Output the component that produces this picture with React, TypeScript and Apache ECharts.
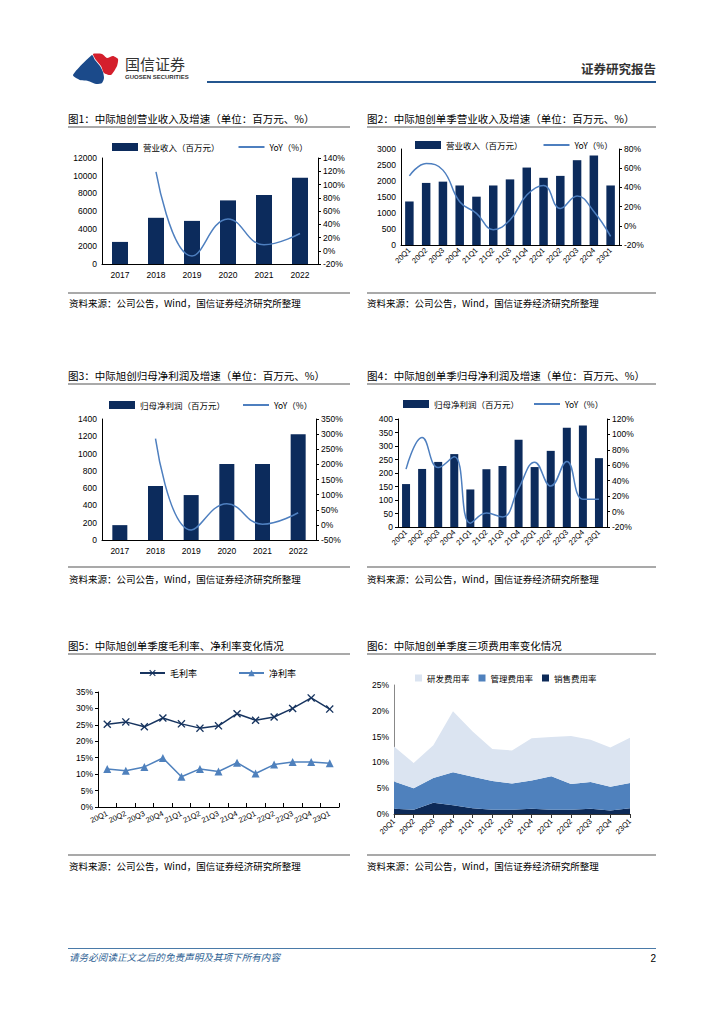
import React, { useEffect, useRef } from 'react';
import * as echarts from 'echarts';

const years = ['2017', '2018', '2019', '2020', '2021', '2022'];
const quarters = ['20Q1', '20Q2', '20Q3', '20Q4', '21Q1', '21Q2', '21Q3', '21Q4', '22Q1', '22Q2', '22Q3', '22Q4', '23Q1'];

const revenueAnnual = [2500, 5230, 4880, 7200, 7800, 9760];
const revenueAnnualYoY = [null, 119, -8, 48, 9, 26];
const revenueQ = [1360, 1940, 1980, 1860, 1510, 1860, 2050, 2420, 2100, 2160, 2650, 2800, 1860];
const revenueQYoY = [52, 65, 58, 25, 13, -4, 6, 32, 42, 18, 31, 15, -11];

const netProfitAnnual = [172, 625, 520, 880, 880, 1225];
const netProfitAnnualYoY = [null, 285, -17, 70, 2, 40];
const netProfitQ = [159, 215, 241, 270, 139, 214, 226, 323, 222, 282, 368, 376, 255];
const netProfitQYoY = [55, 96, 57, 71, -15, -2, -7, 30, 64, 33, 65, 16, 16];

const grossMargin = [25.2, 25.9, 24.4, 27.1, 25.3, 24.0, 24.7, 28.4, 26.4, 27.4, 30.0, 33.2, 29.8];
const netMargin = [11.6, 11.0, 12.2, 14.9, 9.2, 11.6, 10.8, 13.5, 10.2, 12.9, 13.7, 13.7, 13.3];

const salesExpRate = [1.0, 0.8, 2.2, 1.7, 1.1, 0.8, 0.8, 1.0, 0.8, 0.8, 1.0, 0.7, 1.1];
const adminExpRate = [5.3, 4.2, 4.8, 6.4, 6.1, 5.6, 5.1, 5.5, 6.5, 5.0, 5.2, 4.6, 4.9];
const rdExpRate = [6.8, 4.9, 6.3, 11.8, 8.8, 6.2, 6.4, 8.2, 7.6, 9.3, 8.2, 7.6, 8.8];

const chartTitles = [
  '图1：中际旭创营业收入及增速（单位：百万元、%）',
  '图2：中际旭创单季营业收入及增速（单位：百万元、%）',
  '图3：中际旭创归母净利润及增速（单位：百万元、%）',
  '图4：中际旭创单季归母净利润及增速（单位：百万元、%）',
  '图5：中际旭创单季度毛利率、净利率变化情况',
  '图6：中际旭创单季度三项费用率变化情况',
];
const sourceText = '资料来源：公司公告，Wind，国信证券经济研究所整理';

const NAVY = '#0c2b5c';
const LINE_BLUE = '#4e7fbf';
const CJK = '"Noto Sans CJK SC", sans-serif';
const NUM = '"Liberation Sans", Arial, sans-serif';

const txt = (text: string, x: number, y: number, size: number, o: any = {}) => ({
  type: 'text',
  x,
  y,
  silent: true,
  style: {
    text,
    x: 0,
    y: 0,
    fill: o.color || '#000',
    fontSize: size,
    fontFamily: o.family || CJK,
    fontWeight: o.weight || 'normal',
    fontStyle: o.fontStyle || 'normal',
    align: o.align || 'left',
    verticalAlign: 'middle',
    textAlign: o.align || 'left',
    textVerticalAlign: 'middle',
  },
});

const hline = (x1: number, x2: number, y: number, color: string, w: number) => ({
  type: 'line',
  silent: true,
  shape: { x1, y1: y, x2, y2: y },
  style: { stroke: color, lineWidth: w },
});

const labelStyle = { color: '#000', fontSize: 8.5, fontFamily: NUM };

const catAxis = (gridIndex: number, data: string[], extra: any = {}) => ({
  type: 'category',
  gridIndex,
  data,
  axisLine: { lineStyle: { color: '#000', width: 1 } },
  axisTick: { show: false },
  splitLine: { show: false },
  ...extra,
  axisLabel: { ...labelStyle, margin: 6, ...(extra.axisLabel || {}) },
});

const valAxis = (gridIndex: number, min: number, max: number, interval: number, position: string, pct: boolean, extra: any = {}) => ({
  type: 'value',
  gridIndex,
  min,
  max,
  interval,
  position,
  axisLine: { show: true, lineStyle: { color: '#000', width: 1 } },
  axisTick: { show: true, length: 3, lineStyle: { color: '#000' } },
  splitLine: { show: false },
  axisLabel: { ...labelStyle, margin: 5, formatter: (v: number) => (pct ? `${v}%` : `${v}`) },
  ...extra,
});

const xSymbol = 'path://M0,1.2L1.2,0L5,3.8L8.8,0L10,1.2L6.2,5L10,8.8L8.8,10L5,6.2L1.2,10L0,8.8L3.8,5Z';

const legendBase = {
  orient: 'horizontal',
  padding: 0,
  itemWidth: 26,
  itemHeight: 8,
  selectedMode: false,
  textStyle: { fontSize: 8.5, fontFamily: CJK, color: '#000', lineHeight: 10 },
};

const barItem = (name: string) => ({ name, icon: 'rect' });
const lineItem = (name: string) => ({ name, itemStyle: { opacity: 0 } });

const option: any = {
  animation: false,
  backgroundColor: '#fff',
  grid: [
    { left: 102, top: 158, width: 216, height: 106 },
    { left: 401, top: 149, width: 218, height: 96 },
    { left: 102, top: 419, width: 214, height: 121 },
    { left: 398, top: 419, width: 209, height: 108 },
    { left: 98, top: 692, width: 241, height: 115 },
    { left: 394, top: 685, width: 236, height: 129 },
  ],
  legend: [
    { ...legendBase, left: 112, top: 142, itemGap: 18, data: [barItem('营业收入（百万元）'), lineItem('YoY（%）')] },
    { ...legendBase, left: 415, top: 140, itemGap: 20, data: [barItem('营业收入（百万元）'), lineItem('YoY（%）')] },
    { ...legendBase, left: 109, top: 400, itemGap: 17, data: [barItem('归母净利润（百万元）'), lineItem('YoY（%）')] },
    { ...legendBase, left: 403, top: 399, itemGap: 14, data: [barItem('归母净利润（百万元）'), lineItem('YoY（%）')] },
    { ...legendBase, left: 139, top: 668, itemGap: 41, itemWidth: 25, itemHeight: 8, textStyle: { ...legendBase.textStyle, fontSize: 9 }, data: ['毛利率', '净利率'] },
    { ...legendBase, left: 415, top: 673, itemGap: 9, itemWidth: 7, itemHeight: 7, data: [barItem('研发费用率'), barItem('管理费用率'), barItem('销售费用率')] },
  ],
  xAxis: [
    catAxis(0, years),
    catAxis(1, quarters, { axisLabel: { rotate: 45, margin: 4, fontSize: 7.5, interval: 0 } }),
    catAxis(2, years),
    catAxis(3, quarters, { axisLabel: { rotate: 45, margin: 4, fontSize: 7.5, interval: 0 } }),
    catAxis(4, quarters, {
      axisTick: { show: true, inside: true, length: 4, lineStyle: { color: '#000' } },
      axisLabel: { rotate: 25, margin: 6, fontSize: 7.5, interval: 0 },
    }),
    catAxis(5, quarters, {
      boundaryGap: false,
      axisLine: { lineStyle: { color: '#333', width: 1 } },
      axisTick: { show: true, length: 4, lineStyle: { color: '#333' } },
      axisLabel: { rotate: 45, margin: 6, fontSize: 7.5, interval: 0 },
    }),
  ],
  yAxis: [
    valAxis(0, 0, 12000, 2000, 'left', false, { axisTick: { show: false } }),
    valAxis(0, -20, 140, 20, 'right', true),
    valAxis(1, 0, 3000, 500, 'left', false, { axisTick: { show: false } }),
    valAxis(1, -20, 80, 20, 'right', true),
    valAxis(2, 0, 1400, 200, 'left', false, { axisTick: { show: false } }),
    valAxis(2, -50, 350, 50, 'right', true),
    valAxis(3, 0, 400, 50, 'left', false),
    valAxis(3, -20, 120, 20, 'right', true),
    valAxis(4, 0, 35, 5, 'left', true),
    valAxis(5, 0, 25, 5, 'left', true, { axisTick: { show: false }, axisLine: { show: true, lineStyle: { color: '#888', width: 1 } } }),
  ],
  series: [
    { type: 'bar', name: '营业收入（百万元）', xAxisIndex: 0, yAxisIndex: 0, data: revenueAnnual, barWidth: 16, itemStyle: { color: NAVY }, color: NAVY },
    { type: 'line', name: 'YoY（%）', xAxisIndex: 0, yAxisIndex: 1, data: revenueAnnualYoY, smooth: 0.45, symbol: 'none', connectNulls: false, color: LINE_BLUE, lineStyle: { color: LINE_BLUE, width: 1.5 } },
    { type: 'bar', name: '营业收入（百万元）', xAxisIndex: 1, yAxisIndex: 2, data: revenueQ, barWidth: 8.5, itemStyle: { color: NAVY }, color: NAVY },
    { type: 'line', name: 'YoY（%）', xAxisIndex: 1, yAxisIndex: 3, data: revenueQYoY, smooth: 0.45, symbol: 'none', color: LINE_BLUE, lineStyle: { color: LINE_BLUE, width: 1.5 } },
    { type: 'bar', name: '归母净利润（百万元）', xAxisIndex: 2, yAxisIndex: 4, data: netProfitAnnual, barWidth: 15, itemStyle: { color: NAVY }, color: NAVY },
    { type: 'line', name: 'YoY（%）', xAxisIndex: 2, yAxisIndex: 5, data: netProfitAnnualYoY, smooth: 0.45, symbol: 'none', color: LINE_BLUE, lineStyle: { color: LINE_BLUE, width: 1.5 } },
    { type: 'bar', name: '归母净利润（百万元）', xAxisIndex: 3, yAxisIndex: 6, data: netProfitQ, barWidth: 8, itemStyle: { color: NAVY }, color: NAVY },
    { type: 'line', name: 'YoY（%）', xAxisIndex: 3, yAxisIndex: 7, data: netProfitQYoY, smooth: 0.45, symbol: 'none', color: LINE_BLUE, lineStyle: { color: LINE_BLUE, width: 1.5 } },
    { type: 'line', name: '毛利率', xAxisIndex: 4, yAxisIndex: 8, data: grossMargin, symbol: xSymbol, symbolSize: 8, color: '#17345f', itemStyle: { color: '#17345f' }, lineStyle: { color: '#17345f', width: 1.5 } },
    { type: 'line', name: '净利率', xAxisIndex: 4, yAxisIndex: 8, data: netMargin, symbol: 'triangle', symbolSize: 8, color: '#4f81bd', itemStyle: { color: '#4f81bd' }, lineStyle: { color: '#4f81bd', width: 1.5 } },
    { type: 'line', name: '销售费用率', xAxisIndex: 5, yAxisIndex: 9, data: salesExpRate, stack: 'exp', symbol: 'none', color: '#0d2a58', lineStyle: { width: 0 }, areaStyle: { color: '#0d2a58', opacity: 1 } },
    { type: 'line', name: '管理费用率', xAxisIndex: 5, yAxisIndex: 9, data: adminExpRate, stack: 'exp', symbol: 'none', color: '#4f81bd', lineStyle: { width: 0 }, areaStyle: { color: '#4f81bd', opacity: 1 } },
    { type: 'line', name: '研发费用率', xAxisIndex: 5, yAxisIndex: 9, data: rdExpRate, stack: 'exp', symbol: 'none', color: '#dbe4f1', lineStyle: { width: 0 }, areaStyle: { color: '#dbe4f1', opacity: 1 } },
  ],
  graphic: {
    elements: [
      // logo
      { type: 'polygon', silent: true, shape: { points: [[73, 75], [92, 55], [95, 60], [100, 66], [103, 72], [104, 78], [102, 83], [96, 84], [88, 81], [80, 80]], smooth: 0.2 }, style: { fill: '#1b4a8a' } },
      { type: 'polygon', silent: true, shape: { points: [[93, 54], [102, 54], [107, 58], [113, 56], [118, 59], [117, 66], [111, 75], [104, 73], [101, 66], [96, 60]], smooth: 0.2 }, style: { fill: '#d41f2c' } },
      txt('国信证券', 125, 63, 15, { color: '#333' }),
      txt('GUOSEN SECURITIES', 125, 77, 6, { color: '#333', family: NUM, weight: 'bold' }),
      txt('证券研究报告', 656, 68, 12.5, { color: '#333', align: 'right', weight: 'bold' }),
      hline(207, 656, 82, '#24568f', 2),
      // titles
      txt(chartTitles[0], 68, 118, 10.5),
      txt(chartTitles[1], 367, 118, 10.5),
      txt(chartTitles[2], 68, 375, 10.5),
      txt(chartTitles[3], 367, 375, 10.5),
      txt(chartTitles[4], 68, 645, 10.5),
      txt(chartTitles[5], 367, 645, 10.5),
      hline(68, 350, 127, '#8c8c8c', 1.5),
      hline(367, 656, 127, '#8c8c8c', 1.5),
      hline(68, 350, 384, '#8c8c8c', 1.5),
      hline(367, 656, 384, '#8c8c8c', 1.5),
      hline(68, 350, 654, '#8c8c8c', 1.5),
      hline(367, 656, 654, '#8c8c8c', 1.5),
      // sources
      hline(68, 350, 293, '#8c8c8c', 1.5),
      hline(367, 656, 293, '#8c8c8c', 1.5),
      hline(68, 350, 567, '#8c8c8c', 1.5),
      hline(367, 656, 567, '#8c8c8c', 1.5),
      hline(68, 350, 855, '#8c8c8c', 1.5),
      hline(367, 656, 855, '#8c8c8c', 1.5),
      txt(sourceText, 69, 303, 9.5),
      txt(sourceText, 367, 303, 9.5),
      txt(sourceText, 69, 579, 9.5),
      txt(sourceText, 367, 579, 9.5),
      txt(sourceText, 69, 866, 9.5),
      txt(sourceText, 367, 866, 9.5),
      // footer
      hline(68, 656, 948.5, '#4a7aa8', 1),
      txt('请务必阅读正文之后的免责声明及其项下所有内容', 69, 957, 9.6, { color: '#2e5f94', fontStyle: 'italic' }),
      txt('2', 656, 958, 10, { align: 'right', family: NUM }),
    ],
  },
};

export default function App() {
  const ref = useRef<HTMLDivElement>(null);
  useEffect(() => {
    if (!ref.current) return;
    const chart = echarts.init(ref.current, undefined, { renderer: 'svg' });
    chart.setOption(option);
    return () => chart.dispose();
  }, []);
  return (
    <div
      ref={ref}
      style={{ position: 'absolute', left: 0, top: 0, width: 724, height: 1024, background: '#fff' }}
    />
  );
}
